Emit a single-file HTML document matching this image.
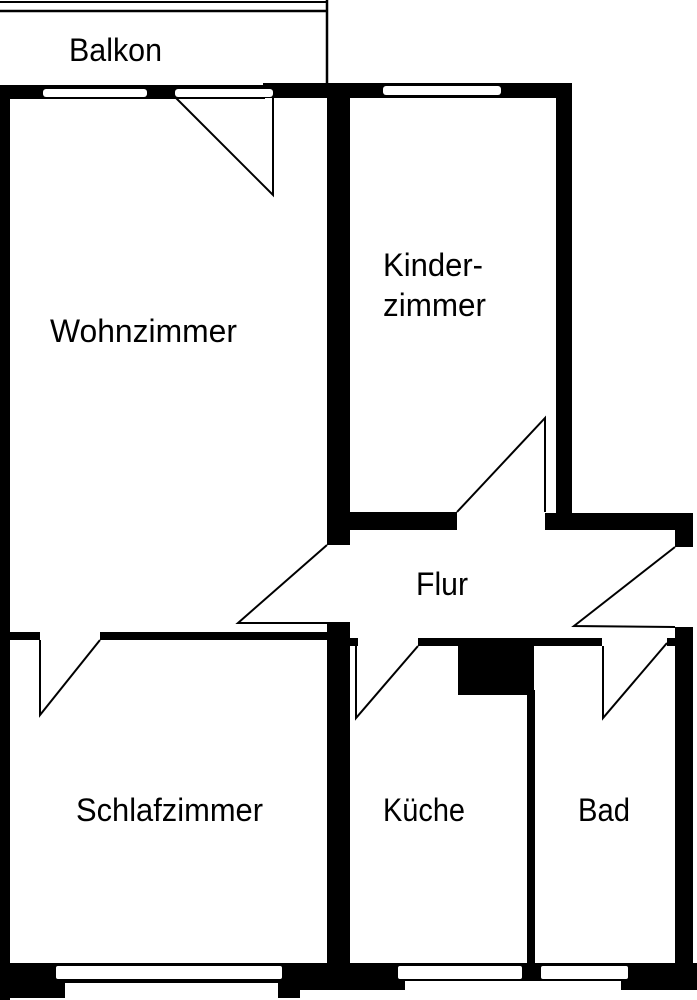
<!DOCTYPE html>
<html><head><meta charset="utf-8"><style>
html,body{margin:0;padding:0;background:#fff;}
svg{display:block;}
text{font-family:"Liberation Sans",sans-serif;font-size:32px;fill:#000;}
</style></head><body>
<svg width="697" height="1000" viewBox="0 0 697 1000" xmlns="http://www.w3.org/2000/svg">
<rect width="697" height="1000" fill="#fff"/>
<line x1="0" y1="2" x2="327" y2="2" stroke="#000" stroke-width="2"/>
<line x1="0" y1="11" x2="327" y2="11" stroke="#000" stroke-width="2.5"/>
<line x1="327" y1="0" x2="327" y2="84" stroke="#000" stroke-width="2.5"/>
<g fill="#000">
<rect x="0" y="85" width="265" height="14"/>
<rect x="263" y="83" width="309" height="15"/>
<rect x="0" y="85" width="10" height="915"/>
<rect x="327" y="85" width="23" height="460"/>
<rect x="556" y="83" width="16" height="447"/>
<rect x="327" y="512" width="130" height="18"/>
<rect x="545" y="513" width="148" height="17"/>
<rect x="675" y="513" width="18" height="34"/>
<rect x="0" y="632" width="40" height="8"/>
<rect x="100" y="632" width="227" height="8"/>
<rect x="327" y="622" width="23" height="345"/>
<rect x="418" y="638" width="184" height="8"/>
<rect x="350" y="638" width="8" height="8"/>
<rect x="458" y="646" width="76" height="49"/>
<rect x="527" y="690" width="8" height="275"/>
<rect x="675" y="627" width="18" height="340"/>
<rect x="667" y="638" width="10" height="8"/>
<rect x="0" y="963" width="697" height="27"/>
<rect x="0" y="988" width="300" height="10"/>
</g>
<g fill="#fff">
<rect x="43" y="89" width="104" height="8" rx="3"/>
<rect x="175" y="89" width="98" height="8" rx="3"/>
<rect x="383" y="86" width="118" height="9" rx="3"/>
<rect x="56" y="966" width="226" height="13" rx="2"/>
<rect x="65" y="983" width="213" height="17"/>
<rect x="398" y="966" width="124" height="13" rx="2"/>
<rect x="541" y="966" width="87" height="13" rx="2"/>
<rect x="405" y="981" width="216" height="10"/>
<rect x="300" y="990" width="397" height="10"/>
</g>
<g fill="none" stroke="#000" stroke-width="2">
<polyline points="175,97 273,195 273,97"/>
<polyline points="457,512 545,418 545,512"/>
<polyline points="327,545 238,623 327,623"/>
<polyline points="40,640 40,715 100,640"/>
<polyline points="356,646 356,718 418,646"/>
<polyline points="603,646 603,718 667,643"/>
<polyline points="675,547 574,626 675,627"/>
</g>
<text x="69" y="61" textLength="93" lengthAdjust="spacingAndGlyphs">Balkon</text>
<text x="50" y="342" textLength="187" lengthAdjust="spacingAndGlyphs">Wohnzimmer</text>
<text x="383" y="276" textLength="100" lengthAdjust="spacingAndGlyphs">Kinder-</text>
<text x="383" y="316" textLength="103" lengthAdjust="spacingAndGlyphs">zimmer</text>
<text x="416" y="595" textLength="52" lengthAdjust="spacingAndGlyphs">Flur</text>
<text x="76" y="821" textLength="187" lengthAdjust="spacingAndGlyphs">Schlafzimmer</text>
<text x="383" y="821" textLength="82" lengthAdjust="spacingAndGlyphs">Küche</text>
<text x="578" y="821" textLength="52" lengthAdjust="spacingAndGlyphs">Bad</text>
</svg>
</body></html>
